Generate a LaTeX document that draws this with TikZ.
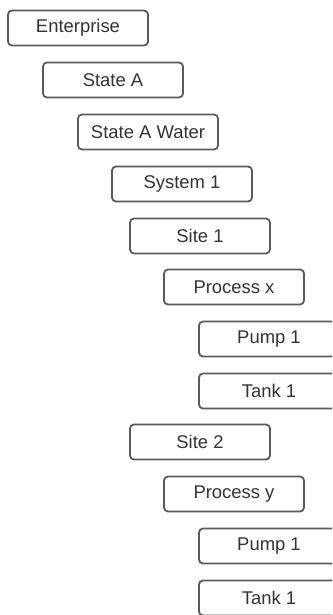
\documentclass[tikz,border=0pt]{standalone}
\usepackage{fontspec}
\setmainfont{Liberation Sans}
\definecolor{boxline}{HTML}{5A5A5A}
\definecolor{boxtext}{HTML}{333333}
\begin{document}
\begin{tikzpicture}[x=1bp,y=-1bp]
\tikzset{level/.style={draw=boxline,line width=1.8bp,rounded corners=4bp,
  minimum width=140bp,minimum height=35bp,inner sep=0pt,text=boxtext,
  font=\fontsize{18.5}{20}\selectfont}}
\useasboundingbox (0,0) rectangle (332,615);
\clip (0,0) rectangle (332,615);
\node [level] (enterprise) at (78,28) {Enterprise};
\node [level] (stateA) at (113,80) {State A};
\node [level] (stateAWater) at (148,132) {State A Water};
\node [level] (system1) at (182,184) {System 1};
\node [level] (site1) at (200,236) {Site 1};
\node [level] (processX) at (234,287) {Process x};
\node [level] (pump1) at (269,339) {Pump 1};
\node [level] (tank1) at (269,391) {Tank 1};
\node [level] (site2) at (200,442) {Site 2};
\node [level] (processY) at (234,494) {Process y};
\node [level] (pump2) at (269,546) {Pump 1};
\node [level] (tank2) at (269,598) {Tank 1};
\end{tikzpicture}
\end{document}
